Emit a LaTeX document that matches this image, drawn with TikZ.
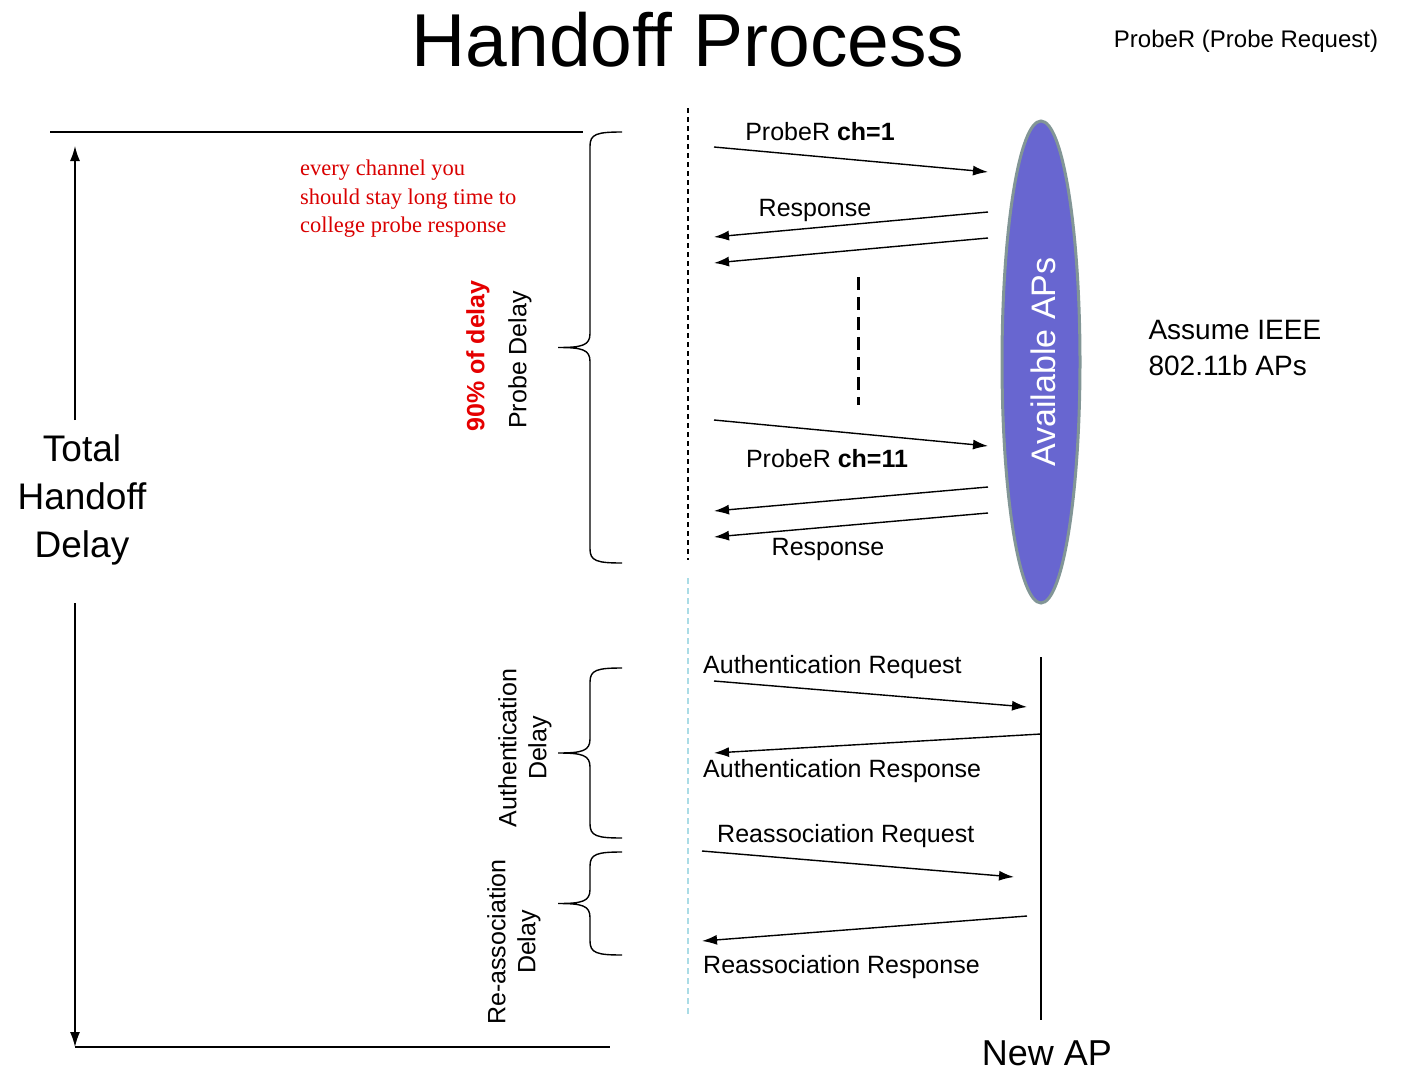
\documentclass[tikz,border=0pt]{standalone}
\usepackage{fontspec}
\setmainfont{Liberation Sans}
\newfontfamily\serifred{Liberation Serif}
\usetikzlibrary{arrows.meta,shapes.geometric}
\begin{document}
\begin{tikzpicture}[x=1pt,y=-1pt,
  msg/.style={line width=1.4pt,-{Latex[length=15pt,width=10pt]}},
  lbl/.style={font=\fontsize{25}{29}\selectfont,inner sep=0pt},
  rule/.style={line width=1.4pt}]
\useasboundingbox (0,0) rectangle (1408,1092);
\newcommand\mybrace[3]{% x top bottom (tip at middle)
  \draw[line width=1.4pt] (#1,#2) .. controls (#1-25,#2) and (#1-32,#2+2) .. (#1-32,#2+14)
    -- (#1-32,{(#2+#3)/2-14}) .. controls (#1-32,{(#2+#3)/2-2}) and (#1-40,{(#2+#3)/2}) .. (#1-64,{(#2+#3)/2})
    .. controls (#1-40,{(#2+#3)/2}) and (#1-32,{(#2+#3)/2+2}) .. (#1-32,{(#2+#3)/2+14})
    -- (#1-32,#3-14) .. controls (#1-32,#3-2) and (#1-25,#3) .. (#1,#3);}
\node[font=\fontsize{75}{80}\selectfont] (title) at (688,40) {Handoff Process};
\node[font=\fontsize{24}{26}\selectfont] (prober) at (1246,41) {ProbeR (Probe Request)};
% left axis
\coordinate (tl) at (50,132); \coordinate (tr) at (583,132);
\coordinate (bl) at (75,1047); \coordinate (br) at (610,1047);
\draw[rule] (tl) -- (tr);
\draw[rule] (bl) -- (br);
\node[font=\fontsize{37}{48}\selectfont,align=center] (total) at (82,500) {Total\\Handoff\\Delay};
\coordinate (upend) at (75,146); \coordinate (dnend) at (75,1047);
\coordinate (upst) at (75,420); \coordinate (dnst) at (75,603);
\draw[msg] (upst) -- (upend);
\draw[msg] (dnst) -- (dnend);
\node[font=\serifred\fontsize{22.5}{28.5}\selectfont,text=red!85!black,align=left,anchor=north west,inner sep=0pt] (note) at (300,160) {every channel you\\should stay long time to\\college probe response};
% braces
\mybrace{622}{132}{563}
\mybrace{622}{668}{838}
\mybrace{622}{852}{955}
\node[lbl,rotate=90] (pd) at (520,360) {Probe Delay};
\node[lbl,rotate=90,text=red!90!black,font=\bfseries\fontsize{25}{29}\selectfont] (ninety) at (478,356) {90\% of delay};
\node[lbl,rotate=90,align=center,font=\fontsize{25}{30}\selectfont] (ad) at (525,748) {Authentication\\Delay};
\node[lbl,rotate=90,align=center,font=\fontsize{25}{30}\selectfont] (rd) at (514,942) {Re-association\\Delay};
% timelines
\coordinate (d1) at (688,108); \coordinate (d2) at (688,560);
\draw[line width=1.3pt,dash pattern=on 5pt off 4pt] (d1) -- (d2);
\coordinate (c1) at (688,578); \coordinate (c2) at (688,1015);
\draw[line width=2.2pt,dash pattern=on 6pt off 4pt,color={rgb,255:red,170;green,220;blue,230}] (c1) -- (c2);
% APs
\node[ellipse,minimum width=78pt,minimum height=482pt,fill={rgb,255:red,104;green,102;blue,208},draw={rgb,255:red,130;green,150;blue,150},line width=3pt,inner sep=0pt] (aps) at (1041,362) {};
\node[rotate=90,text=white,font=\fontsize{34}{36}\selectfont] (apst) at (1043,362) {Available APs};
\node[font=\fontsize{28}{36}\selectfont,align=left,anchor=west] (ieee) at (1145,348) {Assume IEEE\\802.11b APs};
% probe messages
\coordinate (p1s) at (714,147); \coordinate (p1e) at (988,172);
\draw[msg] (p1s) -- (p1e);
\node[lbl] (l1) at (820,132) {ProbeR \textbf{ch=1}};
\coordinate (r1s) at (988,212); \coordinate (r1e) at (714,237);
\coordinate (r2s) at (988,238); \coordinate (r2e) at (714,263);
\draw[msg] (r1s) -- (r1e); \draw[msg] (r2s) -- (r2e);
\node[lbl] (l2) at (815,210) {Response};
\coordinate (v1) at (858,277); \coordinate (v2) at (858,405);
\draw[line width=3pt,dash pattern=on 13pt off 7pt] (v1) -- (v2);
\coordinate (p2s) at (714,420); \coordinate (p2e) at (988,446);
\draw[msg] (p2s) -- (p2e);
\node[lbl] (l3) at (827,459) {ProbeR \textbf{ch=11}};
\coordinate (r3s) at (988,487); \coordinate (r3e) at (714,511);
\coordinate (r4s) at (988,513); \coordinate (r4e) at (714,537);
\draw[msg] (r3s) -- (r3e); \draw[msg] (r4s) -- (r4e);
\node[lbl] (l4) at (828,549) {Response};
% New AP
\coordinate (n1) at (1041,657); \coordinate (n2) at (1041,1020);
\draw[rule] (n1) -- (n2);
\node[font=\fontsize{36}{40}\selectfont] (newap) at (1047,1053) {New AP};
\coordinate (a1s) at (714,681); \coordinate (a1e) at (1027,707);
\draw[msg] (a1s) -- (a1e);
\node[lbl,anchor=west] (l5) at (703,667) {Authentication Request};
\coordinate (a2s) at (1041,734); \coordinate (a2e) at (714,753);
\draw[msg] (a2s) -- (a2e);
\node[lbl,anchor=west] (l6) at (703,771) {Authentication Response};
\coordinate (a3s) at (702,851); \coordinate (a3e) at (1014,877);
\draw[msg] (a3s) -- (a3e);
\node[lbl,anchor=west] (l7) at (717,836) {Reassociation Request};
\coordinate (a4s) at (1027,916); \coordinate (a4e) at (702,941);
\draw[msg] (a4s) -- (a4e);
\node[lbl,anchor=west] (l8) at (703,967) {Reassociation Response};
\end{tikzpicture}
\end{document}
